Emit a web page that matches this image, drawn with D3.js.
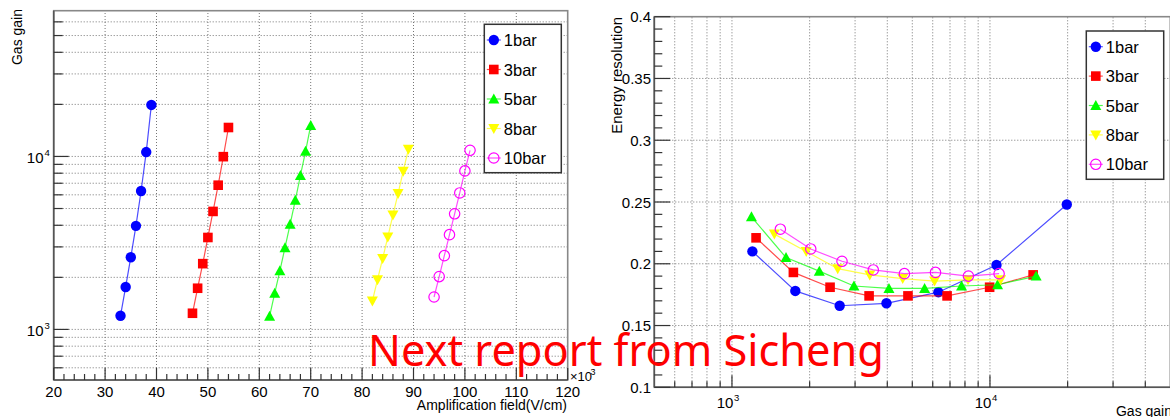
<!DOCTYPE html>
<html><head><meta charset="utf-8">
<script src="https://cdn.jsdelivr.net/npm/d3@7"></script>
<style>html,body{margin:0;padding:0;background:#fff;overflow:hidden}</style>
</head><body>
<svg id="c" width="1170" height="417"></svg>
<script>
// ---------- data ----------
const seriesNames = ["1bar","3bar","5bar","8bar","10bar"];
const seriesColors = ["#0000ff","#ff0000","#00ff00","#ffff00","#ff00ff"];
const seriesShapes = ["circle","square","triangleUp","triangleDown","openCircle"];

const field1 = [33,34,35,36,37,38,39];
const gain1  = [1200,1760,2615,3970,6310,10600,19850];
const res1   = [0.210,0.178,0.166,0.168,0.177,0.199,0.248];

const field3 = [47,48,49,50,51,52,53,54];
const gain3  = [1240,1730,2400,3400,4810,6820,9970,14700];
const res3   = [0.221,0.193,0.181,0.174,0.174,0.174,0.181,0.191];

const field5 = [62,63,64,65,66,67,68,69,70];
const gain5  = [1190,1620,2180,2970,4060,5580,7760,10700,15100];
const res5   = [0.238,0.205,0.194,0.182,0.180,0.180,0.182,0.183,0.190];

const field8 = [82,83,84,85,86,87,88,89];
const gain8  = [1460,1940,2570,3420,4590,6100,8220,11000];
const res8   = [0.224,0.210,0.196,0.191,0.188,0.186,0.187,0.187];

const field10 = [94,95,96,97,98,99,100,101];
const gain10  = [1540,2020,2670,3530,4660,6150,8250,10850];
const res10   = [0.228,0.212,0.202,0.195,0.192,0.193,0.190,0.192];

const fields = [field1,field3,field5,field8,field10];
const gains  = [gain1,gain3,gain5,gain8,gain10];
const resols = [res1,res3,res5,res8,res10];

const leftXTicksMajor = [20,30,40,50,60,70,80,90,100,110,120];
const leftYLabelTicks = [1000,10000];
const rightYTicksMajor = [0.1,0.15,0.2,0.25,0.3,0.35,0.4];
const rightYLabels = ["0.1","0.15","0.2","0.25","0.3","0.35","0.4"];
const rightXLabelTicks = [1000,10000];

const overlayText = "Next report from Sicheng";
// ---------- end data ----------

const FONT = "'Liberation Sans', Arial, Helvetica, sans-serif";
const svg = d3.select("#c");
svg.append("rect").attr("width",1170).attr("height",417).attr("fill","#fff");

function logMinor(lo, hi){
  const out=[];
  for(let d=Math.floor(Math.log10(lo)); d<=Math.ceil(Math.log10(hi)); d++){
    for(let m=1;m<=9;m++){ const v=m*Math.pow(10,d); if(v>lo*1.0001 && v<hi*0.9999) out.push(v); }
  }
  return out;
}

function marker(g, shape, color, cx, cy){
  if(shape==="circle"){
    g.append("circle").attr("cx",cx).attr("cy",cy).attr("r",5.2).attr("fill",color);
  } else if(shape==="square"){
    g.append("rect").attr("x",cx-4.8).attr("y",cy-4.8).attr("width",9.6).attr("height",9.6).attr("fill",color);
  } else if(shape==="triangleUp"){
    g.append("path").attr("d",`M${cx},${cy-5.5}L${cx+5.5},${cy+4.5}L${cx-5.5},${cy+4.5}Z`).attr("fill",color);
  } else if(shape==="triangleDown"){
    g.append("path").attr("d",`M${cx},${cy+5.5}L${cx+5.5},${cy-4.5}L${cx-5.5},${cy-4.5}Z`).attr("fill",color);
  } else {
    g.append("circle").attr("cx",cx).attr("cy",cy).attr("r",5.2).attr("fill","none").attr("stroke",color).attr("stroke-width",1.2);
  }
}

function drawPanel(p){
  const g = svg.append("g");
  const [x0,x1] = p.x.range(), [yb,yt] = p.y.range();
  p.xGrid.forEach(v=>{ g.append("line").attr("x1",p.x(v)).attr("x2",p.x(v)).attr("y1",yb).attr("y2",yt)
      .attr("stroke","#666").attr("stroke-width",0.9).attr("stroke-dasharray","1,2"); });
  p.yGrid.forEach(v=>{ g.append("line").attr("x1",x0).attr("x2",x1).attr("y1",p.y(v)).attr("y2",p.y(v))
      .attr("stroke","#666").attr("stroke-width",0.9).attr("stroke-dasharray","1,2"); });
  g.append("rect").attr("x",x0).attr("y",yt).attr("width",x1-x0).attr("height",yb-yt)
    .attr("fill","none").attr("stroke","#888").attr("stroke-width",1.6);
  g.append("line").attr("x1",x0).attr("x2",x1).attr("y1",yb).attr("y2",yb).attr("stroke","#555").attr("stroke-width",1.6);
  g.append("line").attr("x1",x0).attr("x2",x0).attr("y1",yb).attr("y2",yt).attr("stroke","#555").attr("stroke-width",1.6);
  p.xTicks.forEach(([v,len])=>{ g.append("line").attr("x1",p.x(v)).attr("x2",p.x(v)).attr("y1",yb).attr("y2",yb-len).attr("stroke","#333").attr("stroke-width",1.2); });
  p.yTicks.forEach(([v,len])=>{ g.append("line").attr("x1",x0).attr("x2",x0+len).attr("y1",p.y(v)).attr("y2",p.y(v)).attr("stroke","#333").attr("stroke-width",1.2); });
  for(let s=0;s<seriesNames.length;s++){
    const xs = p.xData[s], ys = p.yData[s];
    const pts = xs.map((v,i)=>[p.x(v), p.y(ys[i])]);
    g.append("path").attr("d",d3.line()(pts)).attr("fill","none").attr("stroke",seriesColors[s])
      .attr("stroke-width",1.2).attr("stroke-opacity",0.7);
    pts.forEach(pt=>marker(g, seriesShapes[s], seriesColors[s], pt[0], pt[1]));
  }
  const L = p.legend;
  g.append("rect").attr("x",L.x).attr("y",L.y).attr("width",L.w).attr("height",L.h)
    .attr("fill","#fff").attr("stroke","#333").attr("stroke-width",1.5);
  seriesNames.forEach((n,i)=>{
    const cy = L.y + L.first + i*L.step, cx = L.x + 9.5;
    g.append("line").attr("x1",cx-7).attr("x2",cx+7).attr("y1",cy).attr("y2",cy).attr("stroke",seriesColors[i]).attr("stroke-width",1.2).attr("stroke-opacity",0.7);
    marker(g, seriesShapes[i], seriesColors[i], cx, cy);
    g.append("text").attr("x",L.x+19.5).attr("y",cy+6).attr("font-family",FONT).attr("font-size",16.5).attr("fill","#000").text(n);
  });
  return g;
}

// ---------- left panel ----------
const xL = d3.scaleLinear().domain([20,120]).range([53.7,567.7]);
const yL = d3.scaleLog().domain([510,69600]).range([380,10.7]);
const leftMinorY = logMinor(510,69600);
const leftXMinor = d3.range(20,121,2);
drawPanel({
  x:xL, y:yL,
  xGrid: leftXTicksMajor.slice(1,-1),
  yGrid: leftMinorY,
  xTicks: leftXMinor.map(v=>[v, (v%10===0)?12:6]),
  yTicks: leftMinorY.map(v=>[v, leftYLabelTicks.includes(v)?15:9]),
  xData: fields, yData: gains,
  legend:{x:484.3,y:24.3,w:77,h:148.4,first:15.7,step:29.5}
});
leftXTicksMajor.forEach(v=>{
  svg.append("text").attr("x",xL(v)).attr("y",396.5).attr("text-anchor","middle")
    .attr("font-family",FONT).attr("font-size",15).text(v);
});
leftYLabelTicks.forEach(v=>{
  svg.append("text").attr("x",43.5).attr("y",yL(v)+6.5).attr("text-anchor","end")
    .attr("font-family",FONT).attr("font-size",15).text("10");
  svg.append("text").attr("x",44.5).attr("y",yL(v)-0.5).attr("font-family",FONT).attr("font-size",9.5).text(String(Math.round(Math.log10(v))));
});
svg.append("text").attr("x",570).attr("y",381).attr("font-family",FONT).attr("font-size",13).text("×10");
svg.append("text").attr("x",590.5).attr("y",375).attr("font-family",FONT).attr("font-size",9).text("3");
svg.append("text").attr("x",567).attr("y",410).attr("text-anchor","end").attr("font-family",FONT).attr("font-size",14).text("Amplification field(V/cm)");
svg.append("text").attr("transform","translate(22,9) rotate(-90)").attr("text-anchor","end")
  .attr("font-family",FONT).attr("font-size",14).text("Gas gain");

// ---------- right panel ----------
const xR = d3.scaleLog().domain([500,50000]).range([654.3,1170.3]);
const yR = d3.scaleLinear().domain([0.1,0.4]).range([387.3,16.7]);
const rightMinorX = logMinor(500,50000);
const rightYMinor = d3.range(0,31).map(i=>0.1+i*0.01);
drawPanel({
  x:xR, y:yR,
  xGrid: rightMinorX,
  yGrid: rightYTicksMajor.slice(1,-1),
  xTicks: rightMinorX.map(v=>[v, rightXLabelTicks.includes(v)?12:6]),
  yTicks: rightYMinor.map((v,i)=>[v, (i%5===0)?16:8]),
  xData: gains, yData: resols,
  legend:{x:1086.3,y:31,w:77.4,h:148.3,first:15.7,step:29.4}
});
rightYTicksMajor.forEach((v,i)=>{
  svg.append("text").attr("x",651).attr("y",yR(v)+5.5).attr("text-anchor","end")
    .attr("font-family",FONT).attr("font-size",15).text(rightYLabels[i]);
});
rightXLabelTicks.forEach(v=>{
  svg.append("text").attr("x",xR(v)+1.5).attr("y",407.5).attr("text-anchor","end")
    .attr("font-family",FONT).attr("font-size",15).text("10");
  svg.append("text").attr("x",xR(v)+2).attr("y",401).attr("font-family",FONT).attr("font-size",9.5).text(String(Math.round(Math.log10(v))));
});
svg.append("text").attr("x",1172).attr("y",416).attr("text-anchor","end").attr("font-family",FONT).attr("font-size",14).text("Gas gain");
svg.append("text").attr("transform","translate(622,17) rotate(-90)").attr("text-anchor","end")
  .attr("font-family",FONT).attr("font-size",15).text("Energy resolution");

// ---------- overlay ----------
svg.append("text").attr("x",368).attr("y",365.5).attr("font-family","'Noto Sans', 'Open Sans', sans-serif").attr("font-size",44)
  .attr("fill","#ff0000").attr("textLength",516).attr("lengthAdjust","spacingAndGlyphs").text(overlayText);
</script>
</body></html>
